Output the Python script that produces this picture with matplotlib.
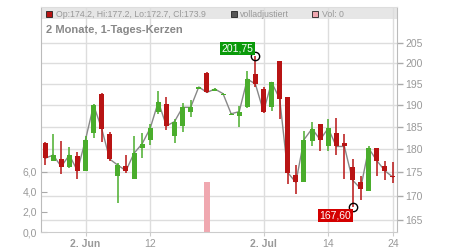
import numpy as np
import matplotlib.pyplot as plt
from matplotlib.patches import Rectangle
from matplotlib.ticker import FixedLocator, NullLocator, FuncFormatter

plt.rcParams['font.family'] = ['Liberation Sans', 'DejaVu Sans']

# Tageskerzen (Handelstage 26.05. - 24.07.)
eroeffnung = [181.4, 177.5, 177.9, 176.2, 178.5, 175.3, 183.7, 192.7, 183.3, 174.2,
              176.3, 173.6, 180.3, 182.1, 188.5, 190.2, 183.0, 185.1, 188.5, 193.8,
              197.7, 193.4, 192.4, 187.8, 187.4, 189.5, 197.4, 193.9, 189.5, 200.6,
              191.8, 174.4, 172.9, 181.9, 185.6, 180.6, 183.7, 181.4, 176.0, 172.8,
              170.9, 180.2, 176.3, 174.2]
hoch = [181.6, 183.5, 181.9, 180.5, 179.4, 183.0, 190.2, 192.8, 183.9, 176.9,
        178.7, 182.9, 183.7, 185.6, 193.4, 191.8, 186.7, 190.5, 191.3, 194.4,
        197.8, 194.0, 192.8, 188.1, 189.7, 198.2, 201.75, 194.2, 195.6, 200.7,
        191.9, 176.5, 184.1, 186.2, 185.7, 186.7, 187.0, 183.3, 177.8, 174.2,
        180.6, 180.3, 177.3, 177.2]
tief = [176.5, 177.3, 174.6, 175.8, 173.6, 175.2, 182.5, 181.6, 177.5, 168.5,
        174.8, 173.5, 178.0, 181.0, 187.9, 184.3, 181.4, 183.9, 187.3, 193.7,
        192.9, 193.3, 192.3, 187.7, 184.9, 189.4, 194.2, 188.1, 188.7, 186.7,
        172.4, 170.3, 172.8, 180.6, 179.7, 179.7, 178.7, 173.5, 167.6, 169.2,
        170.9, 174.2, 173.4, 172.7]
schluss = [178.0, 178.7, 176.2, 178.7, 175.3, 182.1, 190.0, 184.6, 177.8, 176.5,
           175.3, 179.1, 181.2, 184.7, 190.8, 185.2, 186.2, 189.5, 189.5, 194.3,
           193.0, 193.8, 192.7, 188.0, 188.5, 196.2, 195.0, 188.5, 195.4, 191.5,
           174.9, 172.8, 182.1, 184.6, 182.1, 184.7, 180.6, 180.6, 173.3, 171.5,
           180.2, 177.5, 175.3, 173.9]
volumen = [0] * 20 + [5.0] + [0] * 23

x_ticks = [5, 13, 27, 35, 43]
x_labels = ['2. Jun', '12', '2. Jul', '14', '24']
preis_ticks = [165, 170, 175, 180, 185, 190, 195, 200, 205]
vol_ticks = [0, 2, 4, 6]
vol_labels = ['0,0', '2,0', '4,0', '6,0']

ROT = '#b81414'
GRUEN = '#4aad2c'
GRID = '#dddddd'

fig = plt.figure(figsize=(4.5, 2.5), dpi=100, facecolor='white')
ax = fig.add_axes([41/450, 1 - 232/250, 356/450, (232 - 7.3)/250])
ax2 = ax.twinx()
ax.set_zorder(ax2.get_zorder() + 1)
ax.patch.set_visible(False)

x = np.arange(len(schluss))
o = np.array(eroeffnung)
c = np.array(schluss)
farben = [GRUEN if cc >= oo else ROT for oo, cc in zip(o, c)]

# Kerzen
ax2.set_yscale('log')
ax2.plot(x, c, color='#888888', lw=1.0, zorder=2)
ax2.vlines(x, tief, hoch, colors=farben, lw=1.1, zorder=3)
unten = np.minimum(o, c)
hoehe = np.maximum(np.abs(c - o), 0.25)
ax2.bar(x, hoehe, bottom=unten, width=0.62, color=farben, zorder=4)

ax2.set_ylim(162.59, 214.27)
ax2.yaxis.set_major_locator(FixedLocator(preis_ticks))
ax2.yaxis.set_minor_locator(NullLocator())
ax2.yaxis.set_major_formatter(FuncFormatter(lambda v, p: f'{v:.0f}'))
ax2.tick_params(axis='y', colors='#aaaaaa', labelcolor='#999999', length=4,
                width=1, pad=2, labelsize=7.5)
ax2.grid(axis='y', color=GRID, lw=1)
ax2.set_axisbelow(True)
for xt in x_ticks:
    ax2.axvline(xt, color=GRID, lw=1, zorder=0.5)
for s in ax2.spines.values():
    s.set_visible(False)

# Kopfzeile
ax2.add_patch(Rectangle((0, 0.948), 1, 0.047, transform=ax2.transAxes,
                        facecolor='#e6e6e6', edgecolor='none', zorder=0.3))

# Hoch / Tief Markierungen
i_hoch = int(np.argmax(hoch))
i_tief = int(np.argmin(tief))
ax2.plot([i_hoch, i_tief], [hoch[i_hoch], tief[i_tief]], 'o', mfc='none',
         mec='black', ms=6, mew=1, zorder=6)
ax2.annotate(f'{hoch[i_hoch]:.2f}'.replace('.', ','), xy=(i_hoch, hoch[i_hoch]),
             xytext=(-18, 8), textcoords='offset pixels', ha='center', va='center',
             color='white', fontsize=7.5, zorder=7,
             bbox=dict(boxstyle='square,pad=0.15', fc='#0a9a0a', ec='none'))
ax2.annotate(f'{tief[i_tief]:.2f}'.replace('.', ','), xy=(i_tief, tief[i_tief]),
             xytext=(-17, -8), textcoords='offset pixels', ha='center', va='center',
             color='white', fontsize=7.5, zorder=7,
             bbox=dict(boxstyle='square,pad=0.15', fc='#d40000', ec='none'))

# Volumen
ax.bar(x, volumen, width=0.75, color='#f0a8b0', zorder=2)
ax.set_ylim(0, (232 - 7.3) / 10.08)
ax.set_yticks(vol_ticks, vol_labels)
ax.tick_params(axis='y', direction='in', length=4, colors='#aaaaaa',
               labelcolor='#999999', pad=3, labelsize=7.5)

ax.set_xlim(-0.5, len(x) - 0.5)
ax.set_xticks(x_ticks, x_labels)
ax.tick_params(axis='x', length=3, colors='#cccccc', labelcolor='#999999',
               labelsize=7.5, pad=2)
for lbl in ax.get_xticklabels():
    if '.' in lbl.get_text():
        lbl.set_fontweight('bold')

ax.spines['left'].set_color('#bbbbbb')
ax.spines['right'].set_color('#bbbbbb')
ax.spines['top'].set_color('#dddddd')
ax.spines['bottom'].set_color('#cccccc')

# Legende oben
def px(xp, yp):
    return xp / 450, 1 - yp / 250

for (xp, farbe, text) in [(46.3, ROT, 'Op:174.2, Hi:177.2, Lo:172.7, Cl:173.9'),
                          (230.7, '#555555', 'volladjustiert'),
                          (312.3, '#f0a8b0', 'Vol: 0')]:
    fx, fy = px(xp, 17.3)
    fig.add_artist(Rectangle((fx, fy), 6/450, 6/250, transform=fig.transFigure,
                             facecolor=farbe, edgecolor='#222222', lw=0.6))
    tx, ty = px(xp + 9.5, 14.3)
    fig.text(tx, ty, text, fontsize=6.3, color='#999999', va='center', ha='left')

tx, ty = px(46.5, 30)
fig.text(tx, ty, '2 Monate, 1-Tages-Kerzen', fontsize=8, fontweight='bold',
         color='#888888', va='center', ha='left')

plt.savefig('out.png', dpi=100, facecolor='white')
